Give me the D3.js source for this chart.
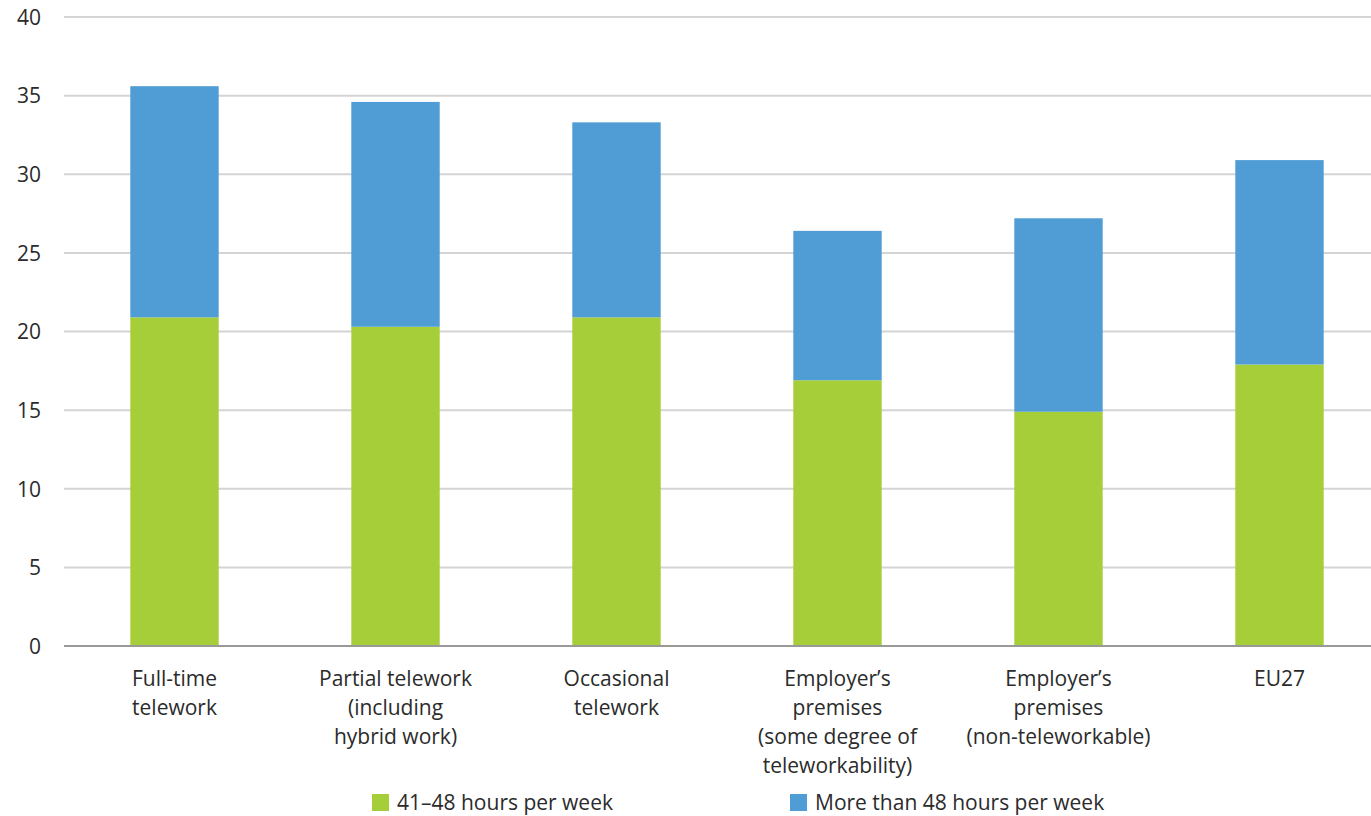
<!DOCTYPE html>
<html><head><meta charset="utf-8">
<script src="https://cdn.jsdelivr.net/npm/d3@7"></script>
<style>
body{margin:0;background:#fff;}
text{font-family:"Open Sans","Noto Sans",sans-serif;fill:#2b2b2b;font-weight:500;}
</style></head>
<body><svg id="c" width="1371" height="816"></svg>
<script>
const categories = [
  ["Full-time","telework"],
  ["Partial telework","(including","hybrid work)"],
  ["Occasional","telework"],
  ["Employer\u2019s","premises","(some degree of","teleworkability)"],
  ["Employer\u2019s","premises","(non-teleworkable)"],
  ["EU27"]
];
const seriesNames = ["41\u201348 hours per week","More than 48 hours per week"];
const hours41to48 = [20.9, 20.3, 20.9, 16.9, 14.9, 17.9];
const hoursOver48 = [14.7, 14.3, 12.4, 9.5, 12.3, 13.0];
const yTicks = [0,5,10,15,20,25,30,35,40];
const colors = ["#a6ce39","#509dd6"];
const FS = 21;

const svg = d3.select("#c");
const keys = categories.map((c,i)=>i);
const x = d3.scaleBand().domain(keys).range([64,1390]).paddingInner(0.6).paddingOuter(0.3);
const y = d3.scaleLinear().domain([0,40]).range([646,17]);

svg.append("g").selectAll("line").data(yTicks.filter(t=>t>0)).join("line")
  .attr("x1",64).attr("x2",1371).attr("y1",d=>y(d)).attr("y2",d=>y(d))
  .attr("stroke","#d4d4d4").attr("stroke-width",2);

const yAxis = d3.axisLeft(y).tickValues(yTicks).tickSize(0).tickPadding(0);
const ga = svg.append("g").attr("transform","translate(41,0)").call(yAxis);
ga.select(".domain").remove();
ga.selectAll("text").attr("font-size",FS).attr("fill","#2b2b2b").attr("dy","0.35em")
  .style("font-family","'Open Sans','Noto Sans',sans-serif").style("font-weight",500);

const data = keys.map(i=>({k:i,a:hours41to48[i],b:hoursOver48[i]}));
const stack = d3.stack().keys(["a","b"])(data);
svg.append("g").selectAll("g").data(stack).join("g").attr("fill",(d,i)=>colors[i])
  .selectAll("rect").data(d=>d).join("rect")
  .attr("x",d=>x(d.data.k)).attr("width",x.bandwidth())
  .attr("y",d=>y(d[1])).attr("height",d=>y(d[0])-y(d[1]));

svg.append("line").attr("x1",64).attr("x2",1371).attr("y1",y(0)).attr("y2",y(0))
  .attr("stroke","#999").attr("stroke-width",2);

const cl = svg.append("g").selectAll("text").data(categories).join("text")
  .attr("text-anchor","middle").attr("font-size",FS)
  .attr("transform",(d,i)=>`translate(${x(i)+x.bandwidth()/2},686)`);
cl.selectAll("tspan").data(d=>d).join("tspan").attr("x",0).attr("dy",(d,i)=>i?29:0).text(d=>d);

const lg = svg.append("g");
const lpos = [372,790];
seriesNames.forEach((n,i)=>{
  lg.append("rect").attr("x",lpos[i]).attr("y",794).attr("width",17).attr("height",17).attr("fill",colors[i]);
  lg.append("text").attr("x",lpos[i]+25).attr("y",810).attr("font-size",FS).text(n);
});
</script></body></html>
